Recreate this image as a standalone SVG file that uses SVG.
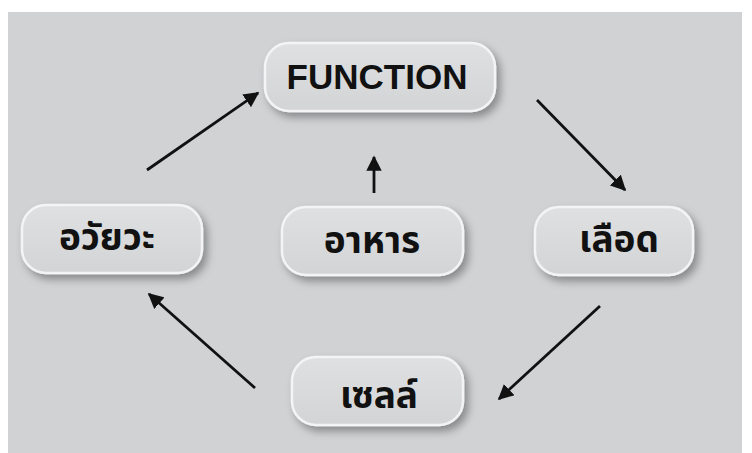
<svg xmlns="http://www.w3.org/2000/svg" width="752" height="453" viewBox="0 0 752 453">
<defs>
<linearGradient id="g" x1="0" y1="0" x2="0" y2="1">
<stop offset="0" stop-color="#dfe0e2"/>
<stop offset="1" stop-color="#d3d4d6"/>
</linearGradient>
<filter id="sh" x="-20%" y="-30%" width="150%" height="180%">
<feDropShadow dx="4" dy="5" stdDeviation="4" flood-color="#000" flood-opacity="0.35"/>
</filter>
<marker id="ah" viewBox="0 0 10 10" refX="9" refY="5" markerWidth="5.5" markerHeight="5.5" orient="auto" markerUnits="strokeWidth">
<path d="M0,0 L10,5 L0,10 Z" fill="#111"/>
</marker>
<style>
.box{fill:url(#g);stroke:#f4f4f5;stroke-width:2.5;filter:url(#sh)}
.t{font-family:"Noto Sans Thai","Noto Sans","DejaVu Sans",sans-serif;font-weight:bold;font-size:37px;fill:#111;text-anchor:middle}
.f{font-family:"Liberation Sans",Arial,sans-serif;font-weight:bold;font-size:35px;fill:#111;text-anchor:middle}
.c{stroke:#111;stroke-width:2.8;fill:none;marker-end:url(#ah)}
</style>
</defs>
<rect width="752" height="453" fill="#ffffff"/>
<rect x="8" y="12" width="734" height="441" fill="#d1d2d4"/>
<g id="connectors">
<line class="c" x1="147" y1="170" x2="258" y2="93"/>
<line class="c" x1="537" y1="100" x2="625" y2="190"/>
<line class="c" x1="600" y1="306" x2="499" y2="399"/>
<line class="c" x1="255" y1="388" x2="149" y2="294"/>
<line class="c" x1="374" y1="193" x2="374" y2="157"/>
</g>
<g id="node-function">
<rect class="box" x="265" y="43" width="230" height="68" rx="24"/>
<text class="f" x="377" y="89">FUNCTION</text>
</g>
<g id="node-organ">
<rect class="box" x="22" y="205" width="180" height="68" rx="24"/>
<text class="t" x="107" y="250">อวัยวะ</text>
</g>
<g id="node-food">
<rect class="box" x="282" y="207" width="181" height="68" rx="24"/>
<text class="t" x="372" y="253">อาหาร</text>
</g>
<g id="node-blood">
<rect class="box" x="535" y="207" width="158" height="68" rx="24"/>
<text class="t" x="619" y="252">เลือด</text>
</g>
<g id="node-cell">
<rect class="box" x="292" y="357" width="171" height="68" rx="24"/>
<text class="t" x="379" y="408">เซลล์</text>
</g>
</svg>
